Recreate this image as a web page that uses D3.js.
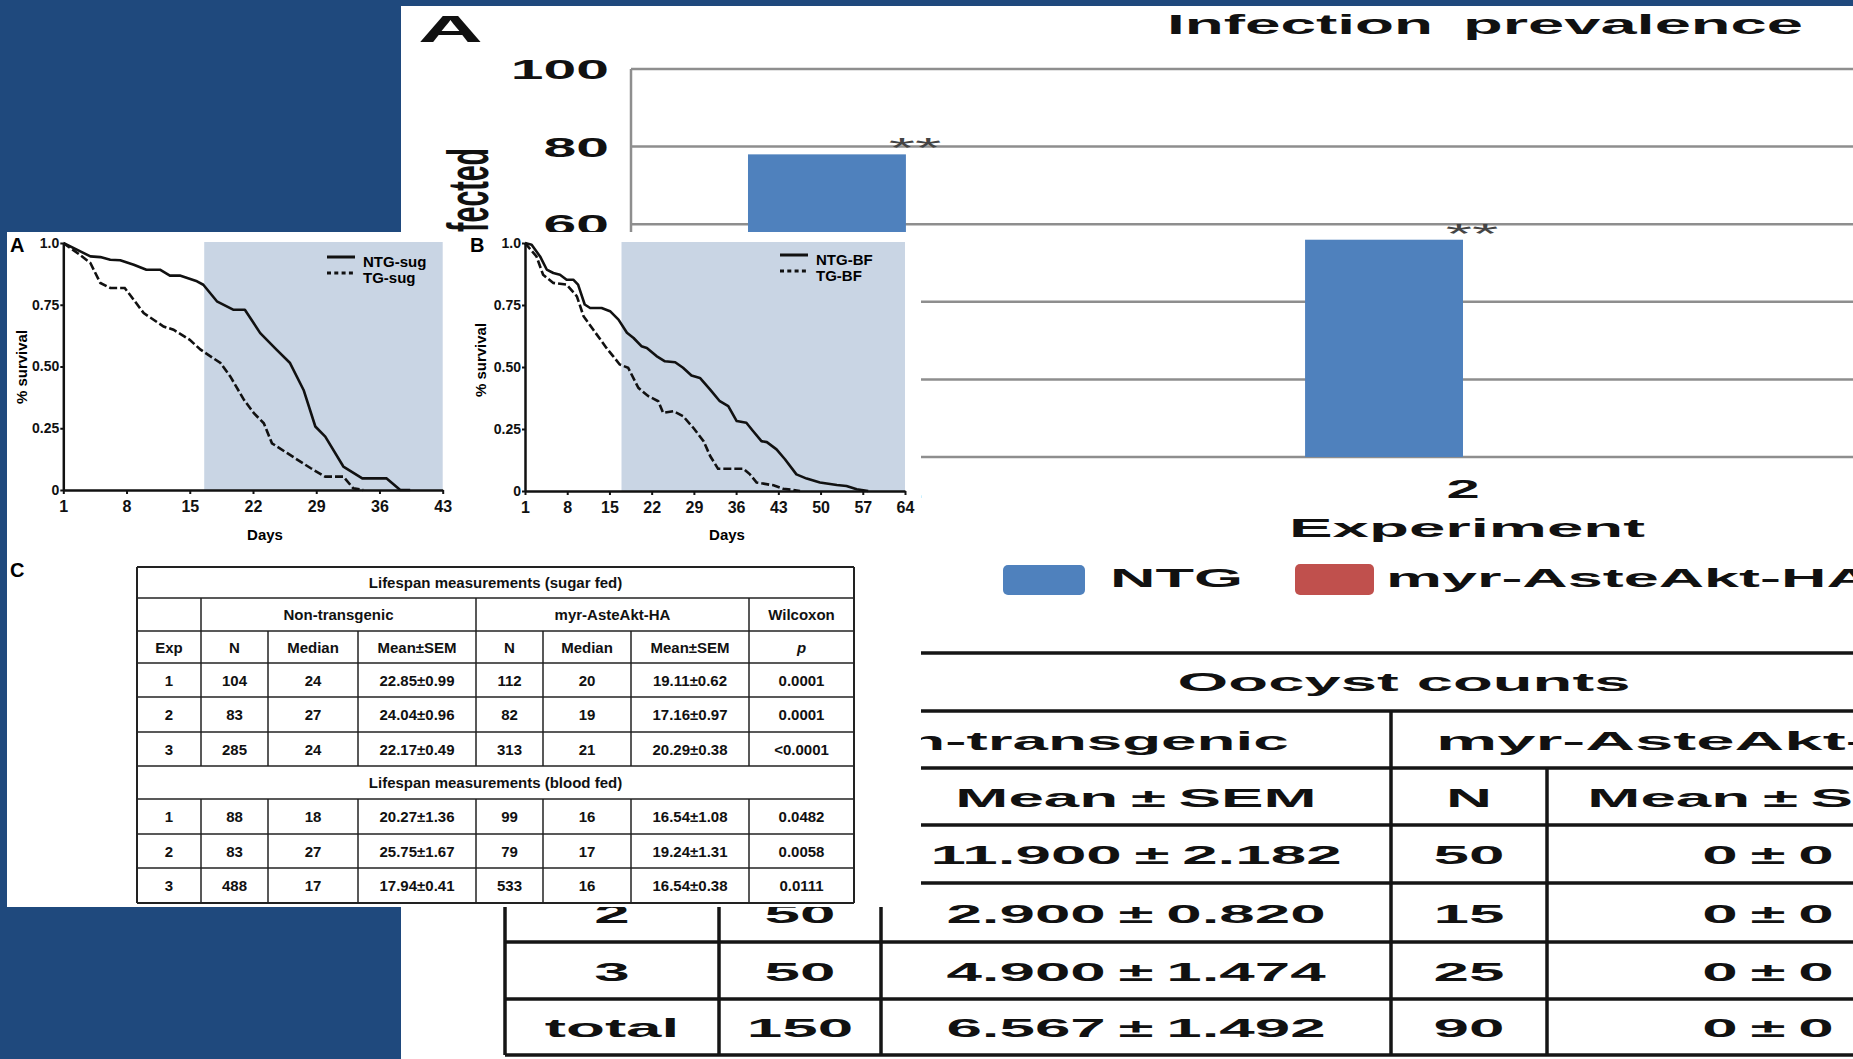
<!DOCTYPE html>
<html>
<head>
<meta charset="utf-8">
<script src="https://cdn.jsdelivr.net/npm/d3@7"></script>
<style>
  body { margin: 0; background: #1f497d; overflow: hidden; }
  svg { display: block; font-family: "Liberation Sans", Arial, sans-serif; }
</style>
</head>
<body>
<svg id="fig" width="1853" height="1059"></svg>
<script>
// ---------- data: infection prevalence (back figure) ----------
const experiments = ["1", "2", "3"];
const ntgInfected = [78, 56, null];   // experiment 3 lies off the right edge
const myrInfected = [0, 0, 0];
const sigMarks = ["**", "**", "**"];
const infectedTicks = [0, 20, 40, 60, 80, 100];
const groupNames = ["NTG", "myr-AsteAkt-HA"];

// ---------- data: oocyst counts table ----------
const oocystExp = ["1", "2", "3", "total"];
const oocystNtgN = ["50", "50", "50", "150"];
const oocystNtgMean = ["11.900±2.182", "2.900±0.820", "4.900±1.474", "6.567±1.492"];
const oocystMyrN = ["50", "15", "25", "90"];
const oocystMyrMean = ["0±0", "0±0", "0±0", "0±0"];

// ---------- data: survival curves [day, fraction alive] ----------
const ntgSug = [[1,1.0],[2.5,0.973],[4,0.946],[5.1,0.943],[6.2,0.932],[7.3,0.93],[8.8,0.912],[10.2,0.892],
  [11.7,0.892],[12.8,0.868],[13.9,0.868],[15.8,0.845],[16.5,0.831],[18,0.764],[19.8,0.73],[21.1,0.73],
  [22.8,0.635],[24.6,0.568],[26.1,0.514],[27.6,0.405],[28.9,0.257],[30,0.216],[32,0.095],[34.1,0.047],
  [36.8,0.047],[38.3,0],[39.4,0]];
const tgSug = [[1,1.0],[2.8,0.953],[4,0.919],[5.1,0.838],[6.2,0.818],[7.8,0.818],[8.8,0.77],[9.9,0.716],
  [12.1,0.662],[13.2,0.649],[15,0.608],[16.2,0.568],[18.4,0.514],[19.5,0.459],[21,0.365],[22.1,0.311],
  [23.2,0.27],[24.1,0.189],[25.8,0.149],[28.4,0.088],[30,0.054],[32,0.054],[33.1,0.007],[34.2,0]];
const ntgBf = [[1,1],[2.1,0.993],[3.5,0.946],[4.6,0.893],[5.7,0.879],[6.8,0.872],[7.9,0.852],[9,0.852],
  [9.8,0.832],[10.9,0.752],[11.8,0.738],[13.7,0.738],[15.1,0.725],[16.5,0.691],[17.9,0.638],[19,0.617],
  [20.3,0.584],[21.2,0.577],[22.8,0.544],[24.2,0.523],[25.9,0.519],[27.2,0.497],[28.6,0.466],[30,0.456],
  [31.7,0.409],[33.3,0.362],[34.7,0.342],[36.1,0.282],[37.7,0.275],[38.8,0.242],[40.2,0.201],[41.1,0.197],
  [42.7,0.168],[44.1,0.128],[46,0.067],[47.7,0.05],[49.9,0.034],[52.7,0.024],[54.3,0.02],[56,0.007],[57.9,0]];
const tgBf = [[1,1],[2.9,0.946],[4,0.872],[5.7,0.839],[7.9,0.832],[9.6,0.785],[10.7,0.705],[12.3,0.651],
  [14.5,0.577],[15.6,0.544],[16.7,0.51],[18.1,0.497],[19.8,0.416],[21.4,0.383],[23.1,0.362],[23.9,0.315],
  [25.6,0.322],[27.2,0.302],[28.9,0.255],[30.6,0.201],[31.7,0.141],[33,0.09],[37.2,0.09],[38.3,0.067],
  [39.4,0.034],[42.2,0.023],[43.8,0.009],[45.5,0.004],[46.6,0]];
const sugDayTicks = [1, 8, 15, 22, 29, 36, 43];
const bfDayTicks = [1, 8, 15, 22, 29, 36, 43, 50, 57, 64];
const survivalTicks = [0, 0.25, 0.5, 0.75, 1];

// ---------- data: lifespan table ----------
const lifespanHeader = ["Exp", "N", "Median", "Mean±SEM", "N", "Median", "Mean±SEM", "p"];
const sugarRows = [
  ["1", "104", "24", "22.85±0.99", "112", "20", "19.11±0.62", "0.0001"],
  ["2", "83", "27", "24.04±0.96", "82", "19", "17.16±0.97", "0.0001"],
  ["3", "285", "24", "22.17±0.49", "313", "21", "20.29±0.38", "<0.0001"]
];
const bloodRows = [
  ["1", "88", "18", "20.27±1.36", "99", "16", "16.54±1.08", "0.0482"],
  ["2", "83", "27", "25.75±1.67", "79", "17", "19.24±1.31", "0.0058"],
  ["3", "488", "17", "17.94±0.41", "533", "16", "16.54±0.38", "0.0111"]
];

const svg = d3.select("#fig");
const BLUE = "#4f81bd", RED = "#c0504d";
// the front figure covers this box of the back one
const FRONT = {x: 7, y: 232, w: 914, h: 675};

// text drawn in the horizontally stretched back picture
function sText(g, str, x, y, size, opt) {
  const t = g.append("text")
    .attr("font-size", size)
    .attr("font-weight", opt.weight || "bold")
    .attr("fill", opt.fill || "#111")
    .attr("text-anchor", opt.anchor || "middle")
    .text(str);
  const nat = t.node().getComputedTextLength();
  const sx = opt.w ? opt.w / nat : opt.sx;
  t.attr("transform", `translate(${x},${y}) scale(${sx},1)` + (opt.rot ? " rotate(-90)" : ""));
  // drop text that the front figure hides completely
  const b = t.node().getBoundingClientRect();
  if (b.left >= FRONT.x && b.right <= FRONT.x + FRONT.w && b.top >= FRONT.y && b.bottom <= FRONT.y + FRONT.h) t.remove();
  return t;
}

// ================= back figure =================
const back = svg.append("g");
back.append("rect").attr("x", 401).attr("y", 6).attr("width", 1452).attr("height", 1053).attr("fill", "white");

const yInf = d3.scaleLinear().domain([0, 100]).range([457, 69]);
const x0 = d3.scaleBand().domain(experiments).range([631, 2295]).paddingInner(0.433).paddingOuter(0.21);
const x1 = d3.scaleBand().domain(groupNames).range([0, x0.bandwidth()]);

sText(back, "A", 418, 42, 37, {anchor: "start", w: 65});
sText(back, "Infection", 1167, 34, 27, {anchor: "start", w: 266});
sText(back, "prevalence", 1463, 34, 27, {anchor: "start", w: 340});

back.selectAll(".grid").data(infectedTicks).join("line")
  .attr("x1", 631).attr("x2", 2295)
  .attr("y1", d => yInf(d)).attr("y2", d => yInf(d))
  .attr("stroke", "#8e8e8e").attr("stroke-width", 2.5);
back.append("line").attr("x1", 631).attr("x2", 631).attr("y1", yInf(0)).attr("y2", yInf(100))
  .attr("stroke", "#8e8e8e").attr("stroke-width", 2.5);
infectedTicks.forEach(v => sText(back, String(v), 609, yInf(v) + 10, 27, {anchor: "end", sx: 2.18}));
sText(back, "% infected", 488, 148, 28.5, {anchor: "end", sx: 2.0, rot: true});

experiments.forEach((e, i) => {
  const gx = x0(e);
  if (ntgInfected[i] != null) {
    back.append("rect").attr("x", gx + x1("NTG")).attr("width", x1.bandwidth())
      .attr("y", yInf(ntgInfected[i])).attr("height", yInf(0) - yInf(ntgInfected[i])).attr("fill", BLUE);
    back.append("rect").attr("x", gx + x1("myr-AsteAkt-HA")).attr("width", x1.bandwidth())
      .attr("y", yInf(myrInfected[i])).attr("height", yInf(0) - yInf(myrInfected[i])).attr("fill", RED);
    const top = Math.max(ntgInfected[i], myrInfected[i]);
    sText(back, sigMarks[i], gx + x0.bandwidth() / 2 + 9, yInf(top) + 3, 27,
      {weight: "normal", fill: "#444", sx: 2.5});
  }
  sText(back, e, gx + x0.bandwidth() / 2, 498, 26, {sx: 2.3});
});
sText(back, "Experiment", 1467, 537, 26, {w: 356});

// legend
back.append("rect").attr("x", 1003).attr("y", 565).attr("width", 82).attr("height", 30).attr("rx", 5).attr("fill", BLUE);
sText(back, "NTG", 1110, 587, 26, {anchor: "start", w: 133});
back.append("rect").attr("x", 1295).attr("y", 564).attr("width", 79).attr("height", 31).attr("rx", 5).attr("fill", RED);
sText(back, "myr-AsteAkt-HA", 1386, 587, 26, {anchor: "start", sx: 2.42});

// oocyst table
const ooCols = [505, 719, 881, 1391, 1547, 1989, 2303];
const ooRows = [653, 711, 768, 825, 883, 942, 999, 1055];
const ooLine = (xa, ya, xb, yb) => back.append("line").attr("x1", xa).attr("y1", ya).attr("x2", xb).attr("y2", yb)
  .attr("stroke", "#151515").attr("stroke-width", 3.5);
ooRows.forEach(r => ooLine(ooCols[0], r, ooCols[6], r));
ooLine(ooCols[0], ooRows[0], ooCols[0], ooRows[7]);
[1, 3, 5].forEach(c => ooLine(ooCols[c], ooRows[1], ooCols[c], ooRows[7]));
[2, 4].forEach(c => ooLine(ooCols[c], ooRows[2], ooCols[c], ooRows[7]));
const colMid = c => (ooCols[c] + ooCols[c + 1]) / 2;
const rowBase = r => (ooRows[r] + ooRows[r + 1]) / 2 + 10;
const OSX = 2.45;
const pm = s => s.replace("±", "\u2009±\u2009");
sText(back, "Oocyst counts", (ooCols[0] + ooCols[6]) / 2, rowBase(0) - 1, 26, {w: 453});
sText(back, "Non-transgenic", (ooCols[1] + ooCols[3]) / 2, rowBase(1), 26, {sx: OSX});
sText(back, "myr-AsteAkt-HA", ooCols[3] + 45, rowBase(1), 26, {anchor: "start", sx: 2.65});
["Exp", "N", pm("Mean±SEM"), "N", pm("Mean±SEM")].forEach((h, c) => sText(back, h, colMid(c), rowBase(2), 26, {sx: OSX}));
oocystExp.forEach((e, i) => {
  const b = rowBase(3 + i);
  sText(back, e, colMid(0), b, 26, {sx: OSX});
  sText(back, oocystNtgN[i], colMid(1), b, 26, {sx: OSX});
  sText(back, pm(oocystNtgMean[i]), colMid(2), b, 26, {sx: OSX});
  sText(back, oocystMyrN[i], colMid(3), b, 26, {sx: OSX});
  sText(back, pm(oocystMyrMean[i]), colMid(4), b, 26, {sx: OSX});
});

// ================= front figure =================
const front = svg.append("g");
front.append("rect").attr("x", FRONT.x).attr("y", FRONT.y).attr("width", FRONT.w).attr("height", FRONT.h).attr("fill", "white");

function survivalChart(g, cfg) {
  const x = d3.scaleLinear().domain(cfg.days).range([cfg.left, cfg.right]);
  const y = d3.scaleLinear().domain([0, 1]).range([cfg.bottom, cfg.top]);
  g.append("rect").attr("x", x(cfg.shadeFrom)).attr("y", y(1) - 1)
    .attr("width", x(cfg.days[1]) - x(cfg.shadeFrom)).attr("height", y(0) - y(1) + 1)
    .attr("fill", "#c9d5e4");
  const line = d3.line().x(d => x(d[0])).y(d => y(d[1]));
  g.append("path").datum(cfg.solid).attr("d", line).attr("fill", "none")
    .attr("stroke", "#111").attr("stroke-width", 2.6).attr("stroke-linejoin", "round");
  g.append("path").datum(cfg.dashed).attr("d", line).attr("fill", "none")
    .attr("stroke", "#111").attr("stroke-width", 2.6).attr("stroke-dasharray", "8,3");

  const xa = g.append("g").attr("transform", `translate(0,${cfg.bottom})`)
    .call(d3.axisBottom(x).tickValues(cfg.ticks).tickSize(4).tickSizeOuter(0).tickPadding(7).tickFormat(d3.format("d")));
  xa.selectAll("text").attr("font-size", 16);
  const ya = g.append("g").attr("transform", `translate(${cfg.left},0)`)
    .call(d3.axisLeft(y).tickValues(survivalTicks).tickSize(3).tickSizeOuter(0).tickPadding(1)
      .tickFormat(d => d === 0 ? "0" : d === 1 ? "1.0" : d3.format(".2f")(d)));
  ya.selectAll("text").attr("font-size", 14);
  [xa, ya].forEach(a => {
    a.select(".domain").attr("stroke", "#111").attr("stroke-width", 2.5);
    a.selectAll(".tick line").attr("stroke", "#111").attr("stroke-width", 2);
    a.selectAll("text").attr("font-weight", "bold").attr("fill", "#111")
      .attr("font-family", "'Liberation Sans', Arial, sans-serif");
  });

  g.append("text").attr("x", cfg.panelX).attr("y", 252).attr("font-size", 20).attr("font-weight", "bold").text(cfg.panel);
  g.append("text").attr("x", (cfg.left + cfg.right) / 2 + 12).attr("y", 540).attr("text-anchor", "middle")
    .attr("font-size", 15).attr("font-weight", "bold").text("Days");
  g.append("text").attr("transform", `translate(${cfg.ylabX},${cfg.ylabY}) rotate(-90)`).attr("text-anchor", "middle")
    .attr("font-size", 15).attr("font-weight", "bold").text("% survival");

  // legend
  const lx = cfg.legX, ly = cfg.legY;
  g.append("line").attr("x1", lx).attr("x2", lx + 28).attr("y1", ly).attr("y2", ly).attr("stroke", "#111").attr("stroke-width", 3);
  g.append("line").attr("x1", lx).attr("x2", lx + 28).attr("y1", ly + 16).attr("y2", ly + 16)
    .attr("stroke", "#111").attr("stroke-width", 3).attr("stroke-dasharray", "4,3.3");
  g.append("text").attr("x", lx + 36).attr("y", ly + 9.5).attr("font-size", 15).attr("font-weight", "bold").text(cfg.names[0]);
  g.append("text").attr("x", lx + 36).attr("y", ly + 26).attr("font-size", 15).attr("font-weight", "bold").text(cfg.names[1]);
}

survivalChart(front, {left: 63.3, right: 442.7, top: 243, bottom: 490, days: [1, 43], ticks: sugDayTicks,
  shadeFrom: 16.6, solid: ntgSug, dashed: tgSug, names: ["NTG-sug", "TG-sug"],
  panel: "A", panelX: 10, ylabX: 27, ylabY: 367, legX: 327, legY: 257});
survivalChart(front, {left: 525, right: 905, top: 243, bottom: 491, days: [1, 64], ticks: bfDayTicks,
  shadeFrom: 17, solid: ntgBf, dashed: tgBf, names: ["NTG-BF", "TG-BF"],
  panel: "B", panelX: 470, ylabX: 486, ylabY: 360, legX: 780, legY: 255});

front.append("text").attr("x", 10).attr("y", 577).attr("font-size", 20).attr("font-weight", "bold").text("C");

// lifespan table
const lsCols = [137, 201, 268, 358, 476, 543, 631, 749, 854];
const lsRows = [567, 598, 631, 663, 697, 732, 766, 799, 834, 868, 903];
const tbl = front.append("g");
const lsLine = (xa, ya, xb, yb, w) => tbl.append("line").attr("x1", xa).attr("y1", ya).attr("x2", xb).attr("y2", yb)
  .attr("stroke", "#222").attr("stroke-width", w || 1.5);
lsRows.forEach((r, i) => lsLine(lsCols[0], r, lsCols[8], r, i === 0 || i === 10 ? 2 : 1.5));
lsLine(lsCols[0], lsRows[0], lsCols[0], lsRows[10], 2);
lsLine(lsCols[8], lsRows[0], lsCols[8], lsRows[10], 2);
[1, 4, 7].forEach(c => lsLine(lsCols[c], lsRows[1], lsCols[c], lsRows[2]));
for (let c = 1; c < 8; c++) {
  lsLine(lsCols[c], lsRows[2], lsCols[c], lsRows[6]);
  lsLine(lsCols[c], lsRows[7], lsCols[c], lsRows[10]);
}
const cell = (str, xa, xb, r, italic) => tbl.append("text")
  .attr("x", (xa + xb) / 2).attr("y", (lsRows[r] + lsRows[r + 1]) / 2 + 5.5)
  .attr("text-anchor", "middle").attr("font-size", 15).attr("font-weight", "bold")
  .attr("font-style", italic ? "italic" : "normal").attr("fill", "#111").text(str);
cell("Lifespan measurements (sugar fed)", lsCols[0], lsCols[8], 0);
cell("Non-transgenic", lsCols[1], lsCols[4], 1);
cell("myr-AsteAkt-HA", lsCols[4], lsCols[7], 1);
cell("Wilcoxon", lsCols[7], lsCols[8], 1);
lifespanHeader.forEach((h, c) => cell(h, lsCols[c], lsCols[c + 1], 2, h === "p"));
sugarRows.forEach((row, i) => row.forEach((v, c) => cell(v, lsCols[c], lsCols[c + 1], 3 + i)));
cell("Lifespan measurements (blood fed)", lsCols[0], lsCols[8], 6);
bloodRows.forEach((row, i) => row.forEach((v, c) => cell(v, lsCols[c], lsCols[c + 1], 7 + i)));
</script>
</body>
</html>
